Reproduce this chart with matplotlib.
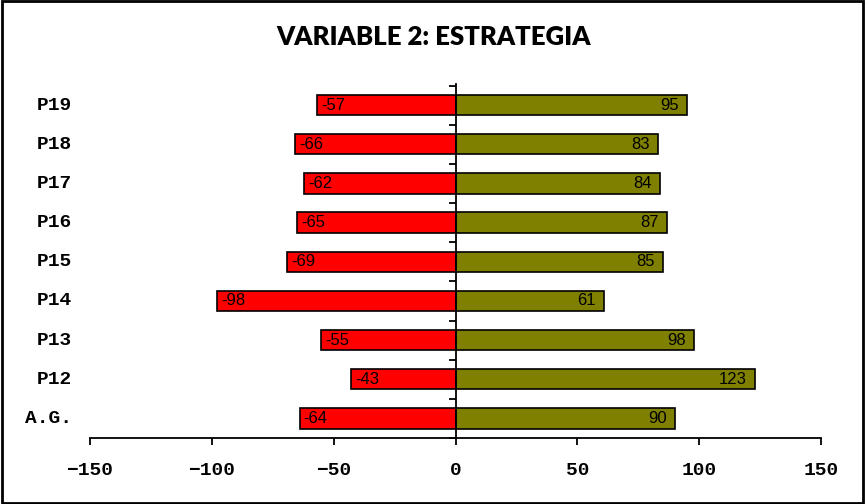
import matplotlib
matplotlib.use("Agg")
import matplotlib.pyplot as plt
import matplotlib.transforms as mtransforms
from matplotlib.patches import Rectangle
import numpy as np

# Categories listed from bottom to top
categories = ["A.G.", "P12", "P13", "P14", "P15", "P16", "P17", "P18", "P19"]
negative_vals = [-64, -43, -55, -98, -69, -65, -62, -66, -57]
positive_vals = [90, 123, 98, 61, 85, 87, 84, 83, 95]
x_ticks = [-150, -100, -50, 0, 50, 100, 150]
title = "VARIABLE 2: ESTRATEGIA"

fig = plt.figure(figsize=(8.65, 5.04), dpi=100)
ax = fig.add_axes([90 / 865, 66 / 504, 731 / 865, 354 / 504])

y = np.arange(len(categories))
bar_h = 0.52
ax.barh(y, negative_vals, height=bar_h, color="#FF0000", edgecolor="black", linewidth=1.2, zorder=2)
ax.barh(y, positive_vals, height=bar_h, color="#808000", edgecolor="black", linewidth=1.2, zorder=2)

# Value labels inside the bar ends
for yi, nv, pv in zip(y, negative_vals, positive_vals):
    ax.annotate(f"{nv}", xy=(nv, yi), xytext=(3, 0), textcoords="offset points",
                ha="left", va="center", fontsize=12, family="Liberation Sans", zorder=3)
    ax.annotate(f"{pv}", xy=(pv, yi), xytext=(-6, 0), textcoords="offset points",
                ha="right", va="center", fontsize=12, family="Liberation Sans", zorder=3)

ax.set_xlim(-150, 150)
ax.set_ylim(-0.5, len(categories) - 0.46)

# Axes lines: vertical axis through zero, horizontal axis at the bottom
for side in ("top", "right"):
    ax.spines[side].set_visible(False)
ax.spines["left"].set_position(("data", 0))
ax.spines["left"].set_linewidth(1.3)
ax.spines["bottom"].set_linewidth(1.3)

ax.set_yticks(np.arange(len(categories) + 1) - 0.5)
ax.set_yticklabels([])
ax.tick_params(axis="y", direction="out", length=5, width=1.3)

ax.set_xticks(x_ticks)
ax.set_xticklabels([str(t).replace("-", "\u2212") for t in x_ticks],
                   family="Liberation Mono", fontweight="bold", fontsize=14)
ax.tick_params(axis="x", direction="out", length=5, width=1.3, pad=12)

# Category names at the far left
trans = mtransforms.blended_transform_factory(ax.transAxes, ax.transData)
offset = mtransforms.ScaledTranslation(-18 / 100, 0, fig.dpi_scale_trans)
for yi, name in zip(y, categories):
    ax.text(0, yi, name, transform=trans + offset, ha="right", va="center",
            family="Liberation Mono", fontweight="bold", fontsize=14)

fig.text(434 / 865, 1 - 37 / 504, title, ha="center", va="center",
         family="Lato", fontweight="heavy", fontsize=18.5)

# Frame around the whole chart
fig.patches.append(Rectangle((0.002, 0.002), 0.996, 0.996, transform=fig.transFigure,
                             fill=False, edgecolor="black", linewidth=2))

fig.savefig("out.png", dpi=100)
